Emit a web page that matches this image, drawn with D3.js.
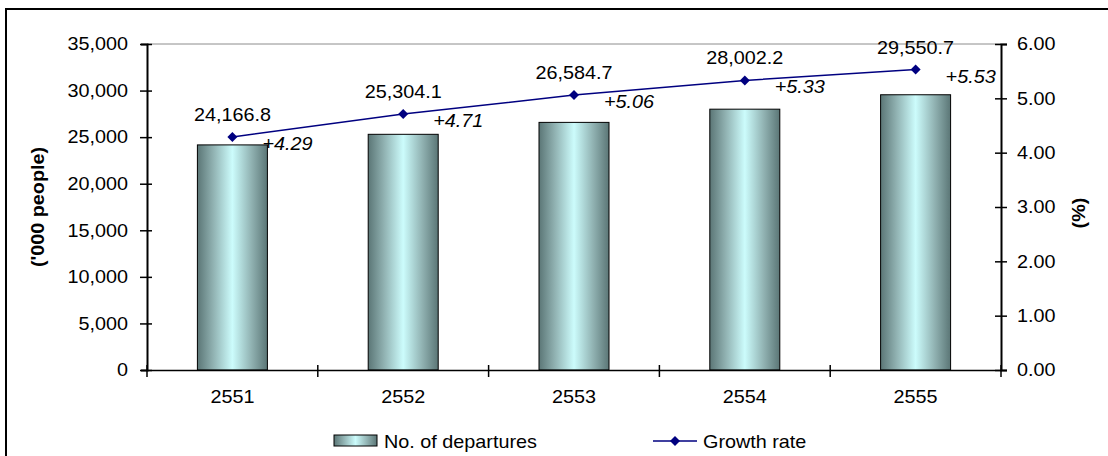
<!DOCTYPE html>
<html>
<head>
<meta charset="utf-8">
<script src="https://cdn.jsdelivr.net/npm/d3@7"></script>
<style>
  html, body { margin: 0; padding: 0; background: #fff; }
  svg { display: block; font-family: "Liberation Sans", Arial, sans-serif; }
</style>
</head>
<body>
<svg id="chart" width="1108" height="456"></svg>
<script>
// Outbound departures (thousand people) and annual growth rate (%)
const years = ["2551", "2552", "2553", "2554", "2555"];
const departures = [24166.8, 25304.1, 26584.7, 28002.2, 29550.7];
const growth = [4.29, 4.71, 5.06, 5.33, 5.53];
const leftTicks = [0, 5000, 10000, 15000, 20000, 25000, 30000, 35000];
const rightTicks = [0, 1, 2, 3, 4, 5, 6];

const svg = d3.select("#chart");
const plot = { left: 147, right: 1001, top: 44, bottom: 370 };
const FONT = "Liberation Sans, Arial, sans-serif";
const FS = "18px";
const WIDEN = 1.1; // slightly wide lettering

// widen text horizontally about its own x anchor
function widen(sel) {
  sel.each(function () {
    const t = d3.select(this);
    const x0 = +t.attr("x") || 0;
    const prev = t.attr("transform") || "";
    t.attr("transform", `${prev} translate(${x0 * (1 - WIDEN)},0) scale(${WIDEN},1)`);
  });
}

// frame around the whole chart
svg.append("path")
  .attr("d", "M6,456 V9 H1108")
  .attr("fill", "none").attr("stroke", "#000").attr("stroke-width", 2);

const x = d3.scaleBand().domain(years).range([plot.left, plot.right]);
const yL = d3.scaleLinear().domain([0, 35000]).range([plot.bottom, plot.top]);
const yR = d3.scaleLinear().domain([0, 6]).range([plot.bottom, plot.top]);

// bar gradient
const defs = svg.append("defs");
const grad = defs.append("linearGradient").attr("id", "barGrad")
  .attr("x1", "0%").attr("x2", "100%").attr("y1", "0%").attr("y2", "0%");
[[0, "#5b7676"], [0.22, "#8fb0b0"], [0.5, "#ccfcfc"], [0.78, "#8fb0b0"], [1, "#5b7676"]]
  .forEach(([o, c]) => grad.append("stop").attr("offset", o).attr("stop-color", c));

// top gridline
svg.append("line")
  .attr("x1", plot.left).attr("x2", plot.right)
  .attr("y1", yL(35000)).attr("y2", yL(35000))
  .attr("stroke", "#8c8c8c").attr("stroke-width", 1);

// bars
const barW = 70;
svg.append("g").selectAll("rect").data(departures).join("rect")
  .attr("x", (d, i) => x(years[i]) + x.bandwidth() / 2 - barW / 2)
  .attr("y", d => yL(d))
  .attr("width", barW)
  .attr("height", d => yL(0) - yL(d))
  .attr("fill", "url(#barGrad)")
  .attr("stroke", "#000").attr("stroke-width", 1);

// axes
const gL = svg.append("g").attr("transform", `translate(${plot.left},0)`)
  .call(d3.axisLeft(yL).tickValues(leftTicks).tickFormat(d3.format(",")).tickSizeOuter(0).tickSize(6).tickPadding(13));
gL.selectAll(".tick line").attr("x2", 0).attr("x1", -7)
  .clone().attr("x1", 0).attr("x2", 5);
const gR = svg.append("g").attr("transform", `translate(${plot.right},0)`)
  .call(d3.axisRight(yR).tickValues(rightTicks).tickFormat(d3.format(".2f")).tickSizeOuter(0).tickSize(6).tickPadding(10));
gR.selectAll(".tick line").attr("x1", -6).attr("x2", 6);
const gX = svg.append("g").attr("transform", `translate(0,${plot.bottom})`)
  .call(d3.axisBottom(x).tickSize(0).tickSizeOuter(0).tickPadding(20));
// category separators on the x axis
const seps = d3.range(years.length + 1).map(i => plot.left + i * x.step());
svg.append("g").selectAll("line").data(seps).join("line")
  .attr("x1", d => d).attr("x2", d => d)
  .attr("y1", plot.bottom - 5).attr("y2", plot.bottom + 7)
  .attr("stroke", "#000").attr("stroke-width", 1.5);

[gL, gR, gX].forEach(g => {
  g.attr("font-size", FS).attr("font-family", FONT);
  g.select(".domain").attr("stroke", "#000").attr("stroke-width", 2);
  g.selectAll(".tick line").attr("stroke", "#000").attr("stroke-width", 1.5);
  g.selectAll("text").attr("font-size", FS).attr("fill", "#000").attr("font-family", FONT);
  widen(g.selectAll("text"));
});
gX.select(".domain").attr("stroke-width", 1.5);

// axis titles
svg.append("text")
  .attr("transform", `translate(44,${(plot.top + plot.bottom) / 2}) rotate(-90) scale(${WIDEN},1)`)
  .attr("text-anchor", "middle").attr("font-size", FS).attr("font-weight", "bold")
  .text("('000 people)");
svg.append("text")
  .attr("transform", `translate(1085,${(plot.top + plot.bottom) / 2 + 6}) rotate(-90) scale(${WIDEN},1)`)
  .attr("text-anchor", "middle").attr("font-size", FS).attr("font-weight", "bold")
  .text("(%)");

// growth line and markers
const cx = i => x(years[i]) + x.bandwidth() / 2;
const line = d3.line().x((d, i) => cx(i)).y(d => yR(d));
svg.append("path").datum(growth)
  .attr("d", line).attr("fill", "none").attr("stroke", "#000080").attr("stroke-width", 1.5);
svg.append("g").selectAll("path").data(growth).join("path")
  .attr("transform", (d, i) => `translate(${cx(i)},${yR(d)}) rotate(45)`)
  .attr("d", d3.symbol().type(d3.symbolSquare).size(50))
  .attr("fill", "#000080");

// value labels
svg.append("g").selectAll("text").data(departures).join("text")
  .attr("x", (d, i) => cx(i)).attr("y", (d, i) => yR(growth[i]) - 16)
  .attr("text-anchor", "middle").attr("font-size", FS)
  .text(d => d3.format(",.1f")(d))
  .call(widen);
svg.append("g").selectAll("text").data(growth).join("text")
  .attr("x", (d, i) => cx(i) + 30).attr("y", (d, i) => yR(d) + 13)
  .attr("text-anchor", "start").attr("font-size", FS).attr("font-style", "italic")
  .text(d => "+" + d3.format(".2f")(d))
  .call(widen);

// legend
const lg = svg.append("g");
lg.append("rect").attr("x", 334).attr("y", 435).attr("width", 43).attr("height", 11)
  .attr("fill", "url(#barGrad)").attr("stroke", "#000").attr("stroke-width", 1);
lg.append("text").attr("x", 384).attr("y", 448).attr("font-size", FS).text("No. of departures");
lg.append("line").attr("x1", 653).attr("x2", 697).attr("y1", 441).attr("y2", 441)
  .attr("stroke", "#000080").attr("stroke-width", 1.5);
lg.append("path").attr("transform", "translate(675,441) rotate(45)")
  .attr("d", d3.symbol().type(d3.symbolSquare).size(50)).attr("fill", "#000080");
lg.append("text").attr("x", 703).attr("y", 448).attr("font-size", FS).text("Growth rate");
widen(lg.selectAll("text"));
</script>
</body>
</html>
